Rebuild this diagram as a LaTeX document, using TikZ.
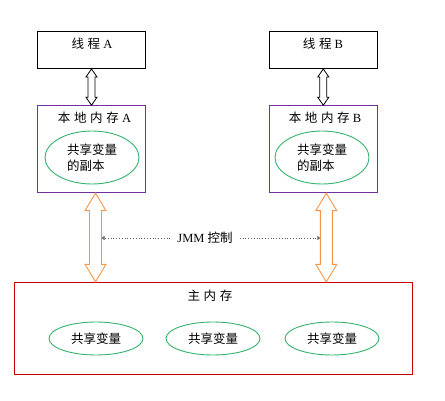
\documentclass[tikz,border=0pt]{standalone}
\usepackage{fontspec}
\setmainfont{Liberation Serif}
\newfontfamily\cjk{Noto Sans CJK SC}[WordSpace=1.3]
\usetikzlibrary{positioning,calc,arrows.meta,shapes.geometric}

\definecolor{locpurple}{HTML}{7030A0}
\definecolor{vargreen}{HTML}{33B36B}
\definecolor{memred}{HTML}{CC0000}
\definecolor{busorange}{HTML}{F79646}

% hollow double arrow between two points on one vertical line
\newcommand\hollowarrow[6]{%
  \draw [#1] let \p1 = (#2), \p2 = (#3) in
    (\x1,\y1) -- (\x1+#5,\y1-#6) -- (\x1+#4,\y1-#6) -- (\x1+#4,\y2+#6)
    -- (\x1+#5,\y2+#6) -- (\x1,\y2) -- (\x1-#5,\y2+#6) -- (\x1-#4,\y2+#6)
    -- (\x1-#4,\y1-#6) -- (\x1-#5,\y1-#6) -- cycle;}

\begin{document}
\begin{tikzpicture}
    [ x = 1pt, y = 1pt
    , font = \fontsize{12.5}{15}\selectfont
    , thread/.style =
      { draw, line width = .9pt, minimum width = 108pt, minimum height = 37pt, inner sep = 0pt }
    , local/.style =
      { draw = locpurple, line width = .9pt, minimum width = 108pt, minimum height = 87pt, inner sep = 0pt }
    , mainmem/.style =
      { draw = memred, line width = .9pt, minimum width = 398pt, minimum height = 92pt, inner sep = 0pt }
    , copyvar/.style =
      { draw = vargreen, line width = .9pt, ellipse, minimum width = 94pt, minimum height = 53pt, inner sep = 0pt }
    , sharedvar/.style =
      { draw = vargreen, line width = .9pt, ellipse, minimum width = 94pt, minimum height = 33pt, inner sep = 0pt }
    , txt/.style =
      { inner sep = 0pt }
    , threadbus/.style =
      { draw = black, line width = .8pt, fill = white }
    , membus/.style =
      { draw = busorange, line width = .9pt, fill = white }
    , jmm/.style =
      { dotted, gray!70!black, line width = .8pt, -{Triangle[open, length = 3pt, width = 4pt]} }
    ]
    \useasboundingbox (0,0) rectangle (445,-401);

    \node [thread] (threadA) at (91.5,-50) {};
    \node [thread] (threadB) at (323.3,-50) {};
    \node [txt] at (92,-44) {{\cjk 线 程} A};
    \node [txt] at (323,-44) {{\cjk 线 程} B};

    \node [local] (localA) at (91.5,-149.2) {};
    \node [local] (localB) at (323.3,-149.2) {};
    \node [txt] at (94.5,-118) {{\cjk 本 地 内 存} A};
    \node [txt] at (325,-118) {{\cjk 本 地 内 存} B};

    \node [copyvar] (copyA) at (92,-157.5) {};
    \node [copyvar] (copyB) at (322,-157.5) {};
    \node [txt, align = left, font = \fontsize{12.5}{16}\selectfont\cjk] at (92,-158) {共享变量\\的副本};
    \node [txt, align = left, font = \fontsize{12.5}{16}\selectfont\cjk] at (322,-158) {共享变量\\的副本};

    \node [mainmem] (mem) at (213.5,-328.3) {};
    \node [txt] at (210,-296) {\cjk 主 内 存};
    \node [sharedvar] (var1) at (96,-338.5) {\cjk 共享变量};
    \node [sharedvar] (var2) at (213,-338.5) {\cjk 共享变量};
    \node [sharedvar] (var3) at (332,-338.5) {\cjk 共享变量};

    % thread <-> local memory
    \hollowarrow{threadbus}{threadA.south}{localA.north}{3.5pt}{5.5pt}{8pt}
    \hollowarrow{threadbus}{threadB.south}{localB.north}{3.5pt}{5.5pt}{8pt}

    % local memory <-> main memory
    \coordinate (busA) at ([xshift=4pt]localA.south);
    \coordinate (busB) at ([xshift=3pt]localB.south);
    \hollowarrow{membus}{busA}{busA |- mem.north}{6pt}{10.5pt}{17.5pt}
    \hollowarrow{membus}{busB}{busB |- mem.north}{6pt}{10.5pt}{17.5pt}

    \node [txt, inner xsep = 7pt] (ctrl) at (205,-238) {JMM {\cjk 控制}};
    \coordinate (shaftA) at ([xshift=6pt]busA);
    \coordinate (shaftB) at ([xshift=-6pt]busB);
    \draw [jmm] (ctrl.west) -- (ctrl.west -| shaftA);
    \draw [jmm] (ctrl.east) -- (ctrl.east -| shaftB);
\end{tikzpicture}
\end{document}
